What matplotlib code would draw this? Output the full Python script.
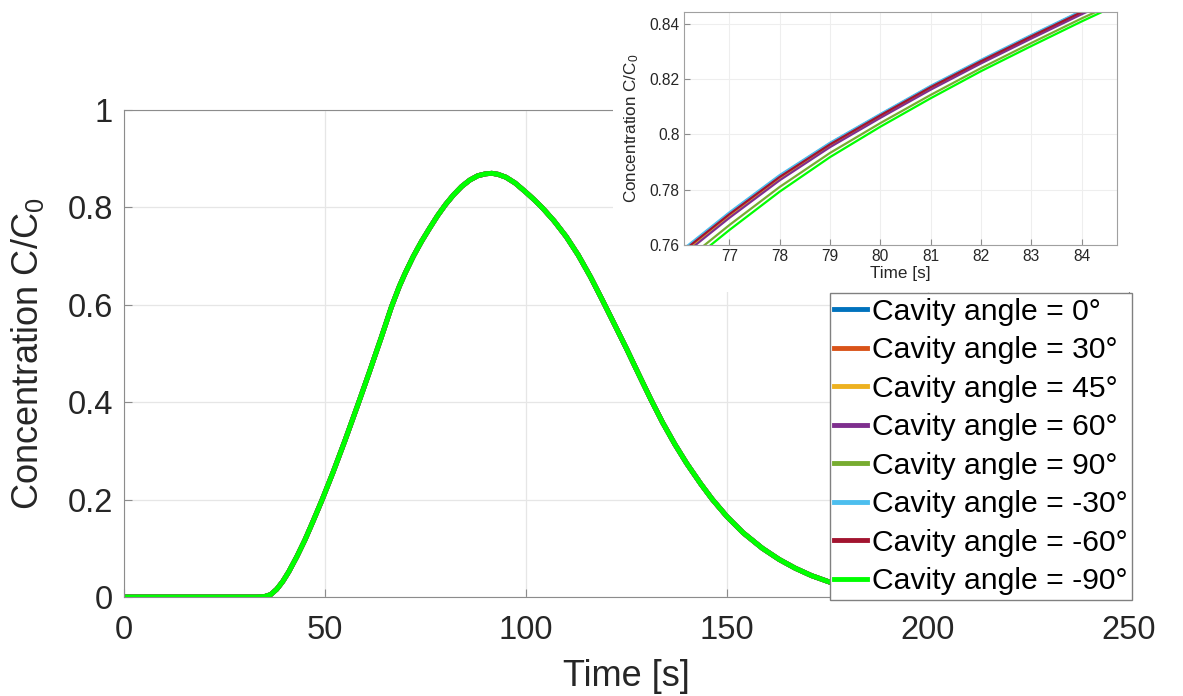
import numpy as np
import matplotlib.pyplot as plt
from matplotlib.patches import Rectangle

plt.rcParams['font.family'] = ['Liberation Sans', 'DejaVu Sans']
plt.rcParams['mathtext.default'] = 'regular'

# series
angles = ['0', '30', '45', '60', '90', '-30', '-60', '-90']
colors = ['#0072BD', '#D95319', '#EDB120', '#7E2F8E', '#77AC30',
          '#4DBEEE', '#A2142F', '#00FF00']

# main curve (all angles overlap at this scale)
time_main = [0, 10, 20, 30, 33, 35, 36.5, 38, 39.5, 41, 43, 45, 47, 49.3, 52,
             55, 58.4, 61, 64, 66.5, 68.5, 70, 72, 74, 76, 78, 80, 82, 84, 86,
             88, 90, 91.5, 93, 95, 97.3, 100, 102, 104.2, 107, 110, 113, 116,
             119.1, 122, 125, 128, 131.1, 134, 137, 140, 143.5, 146.3, 150, 154,
             158.8, 163, 167, 171, 175.4, 180, 185, 190, 200, 215, 230, 250]
conc_main = [0, 0, 0, 0, 0, 0.001, 0.005, 0.016, 0.032, 0.052, 0.083, 0.117,
             0.155, 0.200, 0.256, 0.322, 0.400, 0.461, 0.533, 0.595, 0.638,
             0.666, 0.700, 0.730, 0.757, 0.783, 0.806, 0.826, 0.843, 0.856,
             0.865, 0.869, 0.870, 0.868, 0.862, 0.850, 0.831, 0.816, 0.798,
             0.772, 0.740, 0.702, 0.658, 0.608, 0.560, 0.510, 0.458, 0.405,
             0.358, 0.314, 0.274, 0.232, 0.201, 0.165, 0.132, 0.100, 0.077,
             0.059, 0.044, 0.031, 0.021, 0.014, 0.009, 0.004, 0.001, 0, 0]

# zoomed window values per angle
time_zoom = [76, 77, 78, 79, 80, 81, 82, 83, 84, 85]
zoom_0 = [0.7570, 0.7715, 0.7850, 0.7968, 0.8072, 0.8174, 0.8268, 0.8358, 0.8446, 0.8528]
zoom_30 = [0.7563, 0.7708, 0.7843, 0.7962, 0.8067, 0.8169, 0.8263, 0.8353, 0.8442, 0.8524]
zoom_45 = [0.7561, 0.7706, 0.7842, 0.7961, 0.8066, 0.8168, 0.8262, 0.8353, 0.8441, 0.8523]
zoom_60 = [0.7552, 0.7698, 0.7834, 0.7954, 0.8060, 0.8162, 0.8257, 0.8347, 0.8435, 0.8518]
zoom_90 = [0.7525, 0.7672, 0.7810, 0.7933, 0.8041, 0.8143, 0.8240, 0.8331, 0.8420, 0.8503]
zoom_m30 = [0.7573, 0.7718, 0.7853, 0.7970, 0.8074, 0.8176, 0.8270, 0.8360, 0.8448, 0.8530]
zoom_m60 = [0.7566, 0.7711, 0.7846, 0.7964, 0.8069, 0.8171, 0.8265, 0.8355, 0.8443, 0.8526]
zoom_m90 = [0.7507, 0.7654, 0.7793, 0.7918, 0.8028, 0.8131, 0.8229, 0.8320, 0.8409, 0.8494]
zoom_series = [zoom_0, zoom_30, zoom_45, zoom_60, zoom_90, zoom_m30, zoom_m60, zoom_m90]

W, H = 1183, 696
fig = plt.figure(figsize=(W / 100, H / 100), dpi=100)
spine_col = '#8c8c8c'
txt_col = '#262626'
grid_col = '#e6e6e6'

ax = fig.add_axes([124 / W, 1 - 597 / H, (1129 - 124) / W, (597 - 110) / H])
for a, c in zip(angles, colors):
    ax.plot(time_main, conc_main, color=c, lw=3.5, label='Cavity angle = %s°' % a)
ax.set_xlim(0, 250)
ax.set_ylim(0, 1)
ax.set_xticks([0, 50, 100, 150, 200, 250])
ax.set_yticks([0, 0.2, 0.4, 0.6, 0.8, 1])
ax.set_yticklabels(['0', '0.2', '0.4', '0.6', '0.8', '1'])
ax.tick_params(direction='in', length=6, color=spine_col, labelsize=23.5,
               labelcolor=txt_col, pad=8)
ax.tick_params(axis='x', pad=13)
ax.grid(True, color=grid_col, lw=0.9)
for s in ax.spines.values():
    s.set_color(spine_col)
ax.set_xlabel('Time [s]', fontsize=26, color=txt_col, labelpad=9)
ax.set_ylabel('Concentration C/C$_0$', fontsize=26, color=txt_col)
ax.yaxis.set_label_coords(-0.078, 0.5)

leg = ax.legend(loc='upper right', bbox_to_anchor=(1132 / W, 1 - 293 / H),
                bbox_transform=fig.transFigure, fontsize=21.7, fancybox=False,
                edgecolor='#808080', framealpha=1, borderpad=0.15,
                handlelength=1.1, handletextpad=0.15, labelspacing=0.35,
                borderaxespad=0)
leg.get_frame().set_linewidth(1.0)

# white area behind the inset
fig.patches.append(Rectangle((613 / W, 1 - 292 / H), 1 - 613 / W, 292 / H,
                             transform=fig.transFigure, facecolor='white',
                             edgecolor='none', zorder=1))

axi = fig.add_axes([684 / W, 1 - 245 / H, (1117 - 684) / W, (245 - 12) / H])
axi.set_zorder(2)
for ys, c in zip(zoom_series, colors):
    axi.plot(time_zoom, ys, color=c, lw=1.6)
axi.set_xlim(76.1, 84.7)
axi.set_ylim(0.76, 0.8443)
axi.set_xticks([77, 78, 79, 80, 81, 82, 83, 84])
axi.set_yticks([0.76, 0.78, 0.80, 0.82, 0.84])
axi.set_yticklabels(['0.76', '0.78', '0.8', '0.82', '0.84'])
axi.tick_params(direction='in', length=4, color=spine_col, labelsize=11.2,
                labelcolor=txt_col, pad=3)
axi.grid(True, color='#eeeeee', lw=0.8)
for s in axi.spines.values():
    s.set_color('#a0a0a0')
axi.set_xlabel('Time [s]', fontsize=12.3, color=txt_col, labelpad=1)
axi.set_ylabel('Concentration C/C$_0$', fontsize=12.3, color=txt_col, labelpad=6)

fig.savefig('out.png', dpi=100)
